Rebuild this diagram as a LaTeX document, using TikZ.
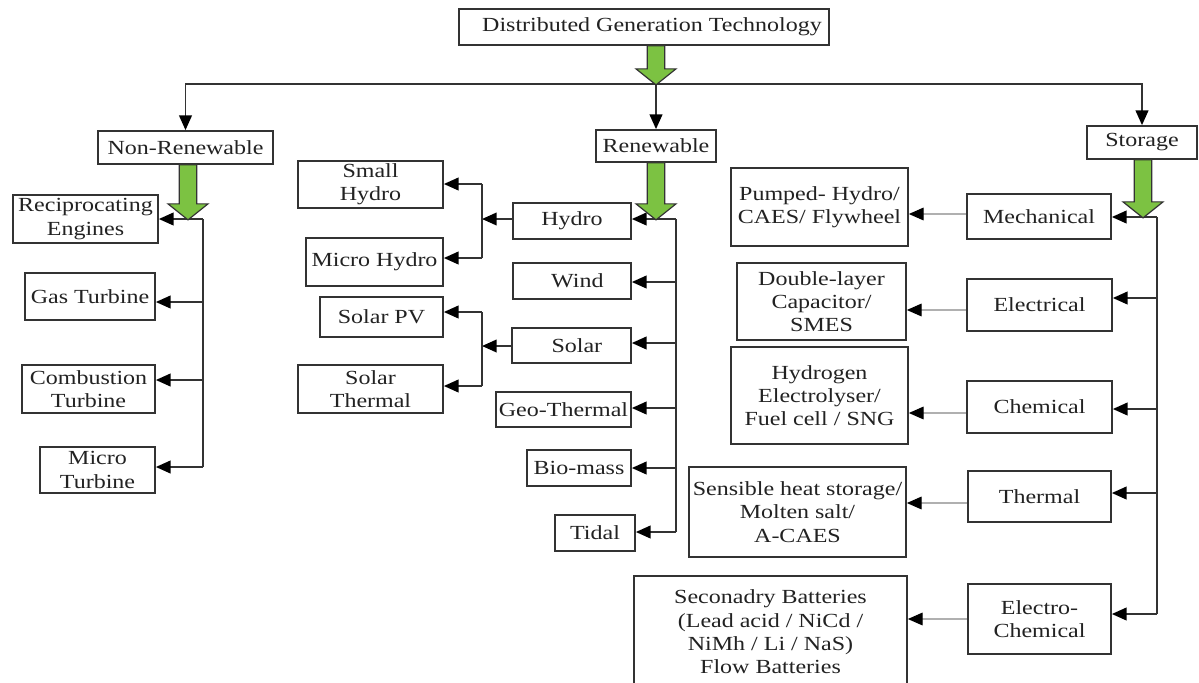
\documentclass[tikz,border=0pt]{standalone}
\usepackage{fontspec}
\setmainfont{Liberation Serif}[FakeStretch=1.2]
\usetikzlibrary{arrows.meta}
\definecolor{lnc}{HTML}{333333}
\definecolor{txtc}{HTML}{222222}
\definecolor{grn}{HTML}{7CC242}
\definecolor{glc}{HTML}{B0B0B0}
\tikzset{
  pics/garrow/.style={code={\filldraw[fill=grn, draw=lnc, line width=0.9pt] (-6.5pt,0)--(6.5pt,0)--(6.5pt,-#1+12pt)--(15pt,-#1+12pt)--(0,-#1)--(-15pt,-#1+12pt)--(-6.5pt,-#1+12pt)--cycle;}},
  box/.style={draw=lnc, line width=1.3pt, fill=white, inner sep=0pt, align=center, text=txtc, font=\fontsize{15}{17.5}\selectfont},
  sz/.style n args={2}{minimum width=#1*0.75pt, minimum height=#2*0.75pt},
  ln/.style={draw=lnc, line width=1.3pt},
  tip/.style={-{Triangle[length=11pt,width=9.5pt,color=black]}},
  gln/.style={draw=glc, line width=0.8pt, -{Triangle[length=11pt,width=9.5pt,color=black]}}
}
\begin{document}
\begin{tikzpicture}[x=0.75pt,y=-0.75pt]
\useasboundingbox[fill=white] (0,0) rectangle (1199,682);
% nodes
\node[box,sz={370}{36}] (top) at (644,27) {\hspace*{12pt}Distributed Generation Technology};
\node[box,sz={175}{33}] (nonren) at (185.5,147.5) {Non-Renewable};
\node[box,sz={120}{32}] (ren) at (656,146) {Renewable};
\node[box,sz={110}{33}] (stor) at (1142,142.5) {Storage};
\node[box,sz={145}{48}] (recip) at (85.5,219) {Reciprocating\\Engines};
\node[box,sz={130}{47}] (gas) at (90,296.5) {Gas Turbine};
\node[box,sz={133}{48}] (comb) at (88.5,389) {Combustion\\Turbine};
\node[box,sz={115}{46}] (micro) at (97.5,470) {Micro\\Turbine};
\node[box,sz={145}{47}] (shydro) at (370.5,184.5) {Small\\Hydro};
\node[box,sz={137}{48}] (mhydro) at (374.5,262) {Micro Hydro};
\node[box,sz={123}{40}] (spv) at (381.5,317) {Solar PV};
\node[box,sz={145}{48}] (sth) at (370.5,389) {Solar\\Thermal};
\node[box,sz={118}{36}] (hydro) at (572,221) {Hydro};
\node[box,sz={118}{36}] (wind) at (572,281) {\hspace*{8pt}Wind};
\node[box,sz={119}{35}] (solar) at (571.5,345.5) {\hspace*{8pt}Solar};
\node[box,sz={135}{35}] (geo) at (563.5,409.5) {Geo-Thermal};
\node[box,sz={104}{36}] (bio) at (579,468) {Bio-mass};
\node[box,sz={80}{36}] (tidal) at (595,533) {Tidal};
\node[box,sz={177}{78}] (pumped) at (819.5,207) {Pumped- Hydro/\\CAES/ Flywheel};
\node[box,sz={169}{77}] (dlc) at (821.5,301.5) {Double-layer\\Capacitor/\\SMES};
\node[box,sz={177}{97}] (hyd) at (819.5,395.5) {Hydrogen\\Electrolyser/\\Fuel cell / SNG};
\node[box,sz={217}{90}] (sens) at (797.5,512) {Sensible heat storage/\\Molten salt/\\A-CAES};
\node[box,sz={273}{112}] (sec) at (770.5,632) {Seconadry Batteries\\(Lead acid / NiCd /\\NiMh / Li / NaS)\\Flow Batteries};
\node[box,sz={144}{45}] (mech) at (1039,216.5) {Mechanical};
\node[box,sz={145}{52}] (elec) at (1039.5,305) {Electrical};
\node[box,sz={145}{52}] (chem) at (1039.5,407) {Chemical};
\node[box,sz={143}{51}] (therm) at (1039.5,496.5) {Thermal};
\node[box,sz={143}{70}] (echem) at (1039.5,619) {Electro-\\Chemical};
% coordinates
\coordinate (hl) at (656,84);
\coordinate (n0) at (203,219); \coordinate (n1) at (203,302);
\coordinate (n2) at (203,380); \coordinate (n3) at (203,467);
\coordinate (r0) at (676,219); \coordinate (r1) at (676,282);
\coordinate (r2) at (676,343); \coordinate (r3) at (676,408);
\coordinate (r4) at (676,468); \coordinate (r5) at (676,532);
\coordinate (hj) at (482,219); \coordinate (hj1) at (482,184); \coordinate (hj2) at (482,258);
\coordinate (sj) at (482,346); \coordinate (sj1) at (482,312); \coordinate (sj2) at (482,386);
\coordinate (t0) at (1157,217); \coordinate (t1) at (1157,298);
\coordinate (t2) at (1157,409); \coordinate (t3) at (1157,493);
\coordinate (t4) at (1157,614);
\coordinate (g0) at (940,214); \coordinate (g1) at (940,310);
\coordinate (g2) at (940,413); \coordinate (g3) at (940,503);
\coordinate (g4) at (940,619);
\coordinate (ga1) at (188,0); \coordinate (ga3) at (1143,0);
% top level
\draw[ln,tip] (hl) -| (nonren.north);
\draw[ln,tip] (hl) -| (stor.north);
\draw[ln,tip] (hl) -- (ren.north);
% non-renewable
\draw[ln] (n0) -- (n3);
\draw[ln,tip] (n0) -- (n0 -| recip.east);
\draw[ln,tip] (n1) -- (n1 -| gas.east);
\draw[ln,tip] (n2) -- (n2 -| comb.east);
\draw[ln,tip] (n3) -- (n3 -| micro.east);
% renewable
\draw[ln] (r0) -- (r5);
\draw[ln,tip] (r0) -- (r0 -| hydro.east);
\draw[ln,tip] (r1) -- (r1 -| wind.east);
\draw[ln,tip] (r2) -- (r2 -| solar.east);
\draw[ln,tip] (r3) -- (r3 -| geo.east);
\draw[ln,tip] (r4) -- (r4 -| bio.east);
\draw[ln,tip] (r5) -- (r5 -| tidal.east);
\draw[ln,tip] (hj -| hydro.west) -- (hj);
\draw[ln] (hj1) -- (hj2);
\draw[ln,tip] (hj1) -- (hj1 -| shydro.east);
\draw[ln,tip] (hj2) -- (hj2 -| mhydro.east);
\draw[ln,tip] (sj -| solar.west) -- (sj);
\draw[ln] (sj1) -- (sj2);
\draw[ln,tip] (sj1) -- (sj1 -| spv.east);
\draw[ln,tip] (sj2) -- (sj2 -| sth.east);
% storage
\draw[ln] (t0) -- (t4);
\draw[ln,tip] (t0) -- (t0 -| mech.east);
\draw[ln,tip] (t1) -- (t1 -| elec.east);
\draw[ln,tip] (t2) -- (t2 -| chem.east);
\draw[ln,tip] (t3) -- (t3 -| therm.east);
\draw[ln,tip] (t4) -- (t4 -| echem.east);
\draw[gln] (g0 -| mech.west) -- (g0 -| pumped.east);
\draw[gln] (g1 -| elec.west) -- (g1 -| dlc.east);
\draw[gln] (g2 -| chem.west) -- (g2 -| hyd.east);
\draw[gln] (g3 -| therm.west) -- (g3 -| sens.east);
\draw[gln] (g4 -| echem.west) -- (g4 -| sec.east);
% green arrows
\pic at (top.south -| hl) {garrow=29.25pt};
\pic at (nonren.south -| ga1) {garrow=41.25pt};
\pic at (ren.south -| hl) {garrow=42.75pt};
\pic at (stor.south -| ga3) {garrow=43.5pt};
\end{tikzpicture}
\end{document}
